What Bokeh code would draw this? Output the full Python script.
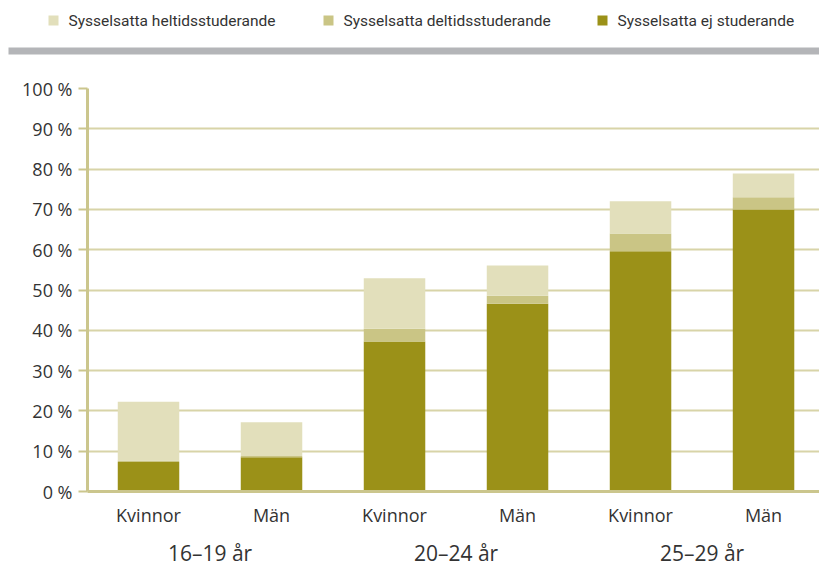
from bokeh.plotting import figure
from bokeh.layouts import column
from bokeh.models import Range1d, LinearAxis, FixedTicker, ColumnDataSource
from bokeh.core.properties import value
from bokeh.embed import file_html
from bokeh.resources import INLINE

# ---- data ----
groups = ["16–19 år", "20–24 år", "25–29 år"]
sexes = ["Kvinnor", "Män"]
categories = ["Kvinnor", "Män", "Kvinnor", "Män", "Kvinnor", "Män"]
ej_studerande = [7.3, 8.5, 37.2, 46.6, 59.6, 70.0]
deltid = [0.4, 0.3, 3.2, 2.0, 4.4, 3.0]
heltid = [14.6, 8.4, 12.5, 7.5, 8.0, 5.9]
series = ["Sysselsatta ej studerande", "Sysselsatta deltidsstuderande", "Sysselsatta heltidsstuderande"]
legend_order = ["Sysselsatta heltidsstuderande", "Sysselsatta deltidsstuderande", "Sysselsatta ej studerande"]
y_ticks = [0, 10, 20, 30, 40, 50, 60, 70, 80, 90, 100]

colors = {"Sysselsatta ej studerande": "#9b9118",
          "Sysselsatta deltidsstuderande": "#cac585",
          "Sysselsatta heltidsstuderande": "#e2dfbb"}
axis_col = "#cbc68d"
grid_col = "#d8d4a8"
text_col = "#333333"
FONT = "Open Sans"
LFONT = "Liberation Sans Narrow, Roboto"

# ---- top: legend + gray bar ----
top = figure(width=819, height=68, output_backend="svg", toolbar_location=None,
             x_range=Range1d(0, 819), y_range=Range1d(68, 0),
             min_border=0, outline_line_color=None)
top.frame_align = False
top.axis.visible = False
top.grid.visible = False
leg_x = [53, 328, 602]
leg_src = ColumnDataSource(dict(
    x=leg_x, tx=[x + 15 for x in leg_x], y=[20] * 3,
    label=legend_order, color=[colors[s] for s in legend_order]))
top.rect(x="x", y="y", width=10, height=10, fill_color="color", line_color=None, source=leg_src)
top.text(x="tx", y="y", text="label", source=leg_src, text_baseline="middle",
         text_align="left", text_font=value(LFONT), text_font_size="15.5px", text_color=text_col)
top.quad(left=[8], right=[820], top=[47], bottom=[54], fill_color="#b4b5b8", line_color=None)

# ---- main chart ----
x = list(range(len(categories)))
src = ColumnDataSource(dict(x=x, **{series[0]: ej_studerande, series[1]: deltid, series[2]: heltid}))

p = figure(frame_width=732, frame_height=403, output_backend="svg", toolbar_location=None,
           x_range=Range1d(-0.496, 5.455), y_range=Range1d(0, 100),
           min_border_left=87, min_border_right=0, min_border_top=20, min_border_bottom=0,
           outline_line_color=None, x_axis_location=None)
p.frame_align = False
p.vbar_stack(series, x="x", width=0.5, source=src,
             color=[colors[s] for s in series], line_color=None)

# y axis
ya = p.yaxis[0]
ya.ticker = FixedTicker(ticks=y_ticks)
ya.major_label_overrides = {t: f"{t} %" for t in y_ticks}
ya.axis_line_color = axis_col
ya.axis_line_width = 3
ya.major_tick_line_color = axis_col
ya.major_tick_line_width = 2
ya.major_tick_out = 9
ya.major_tick_in = 0
ya.minor_tick_line_color = None
ya.major_label_text_font = FONT
ya.major_label_text_font_size = "18px"
ya.major_label_text_color = text_col
ya.major_label_standoff = 6

p.ygrid.ticker = FixedTicker(ticks=y_ticks)
p.ygrid.grid_line_color = grid_col
p.ygrid.grid_line_width = 2
p.xgrid.visible = False

# x axis: sex labels
xa = LinearAxis(ticker=FixedTicker(ticks=x),
                major_label_overrides={i: c for i, c in zip(x, categories)})
xa.axis_line_color = axis_col
xa.axis_line_width = 3
xa.major_tick_line_color = None
xa.minor_tick_line_color = None
xa.major_label_text_font = FONT
xa.major_label_text_font_size = "18px"
xa.major_label_text_color = text_col
xa.major_label_standoff = 5
p.add_layout(xa, "below")

# x axis: age groups
gpos = [x[2 * i] + 0.5 for i in range(len(groups))]
ga = LinearAxis(ticker=FixedTicker(ticks=gpos),
                major_label_overrides={g: n for g, n in zip(gpos, groups)})
ga.axis_line_color = None
ga.major_tick_line_color = None
ga.minor_tick_line_color = None
ga.major_label_text_font = FONT
ga.major_label_text_font_size = "21px"
ga.major_label_text_color = text_col
ga.major_label_standoff = 3
p.add_layout(ga, "below")

layout = column(top, p, spacing=0)
open("out.html", "w").write(file_html(layout, INLINE))
